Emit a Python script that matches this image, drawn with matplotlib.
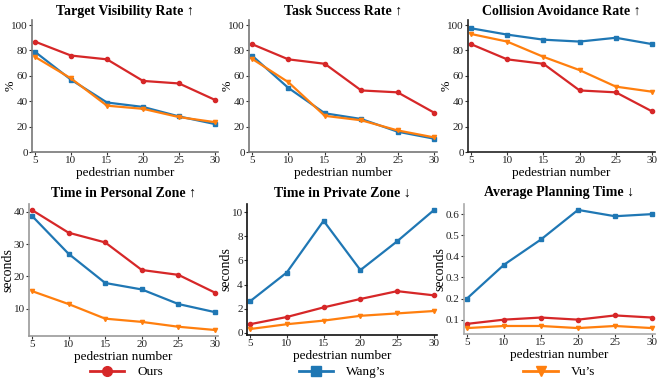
import matplotlib
matplotlib.use("Agg")
import matplotlib.pyplot as plt
from matplotlib.lines import Line2D

plt.rcParams['font.family'] = ['Liberation Serif', 'DejaVu Serif']

peds = [5, 10, 15, 20, 25, 30]

vis_ours = [87, 76, 73, 56, 54, 41]
vis_wang = [79, 57, 39, 35.5, 28, 22]
vis_vu = [75, 58, 36.5, 34, 27.5, 23.5]

succ_ours = [85, 73, 69.5, 48.5, 47, 31]
succ_wang = [76, 50.5, 30.5, 26, 16, 10.5]
succ_vu = [73.5, 55, 28.5, 25, 17, 11.5]

coll_ours = [85, 73, 69.5, 48.5, 47, 32]
coll_wang = [97.5, 92.5, 88.5, 87, 90, 85]
coll_vu = [93, 87, 75, 64.5, 51.5, 47.5]

pers_ours = [40.5, 33.5, 30.5, 22, 20.5, 15]
pers_wang = [38.7, 27, 18, 16, 11.5, 9]
pers_vu = [15.5, 11.5, 7, 6, 4.5, 3.5]

priv_ours = [0.7, 1.3, 2.1, 2.8, 3.45, 3.1]
priv_wang = [2.6, 5.0, 9.3, 5.2, 7.6, 10.2]
priv_vu = [0.3, 0.7, 1.0, 1.4, 1.6, 1.8]

plan_ours = [0.08, 0.10, 0.11, 0.10, 0.12, 0.11]
plan_wang = [0.20, 0.36, 0.48, 0.62, 0.59, 0.60]
plan_vu = [0.06, 0.07, 0.07, 0.06, 0.07, 0.06]

methods = ["Ours", "Wang\u2019s", "Vu\u2019s"]
colors = ['#d62728', '#1f77b4', '#ff7f0e']
markers = ['o', 's', 'v']

pct_ticks = [0, 20, 40, 60, 80, 100]
panels = [
    ("Target Visibility Rate", "\u2191", "%", [vis_ours, vis_wang, vis_vu], pct_ticks),
    ("Task Success Rate", "\u2191", "%", [succ_ours, succ_wang, succ_vu], pct_ticks),
    ("Collision Avoidance Rate", "\u2191", "%", [coll_ours, coll_wang, coll_vu], pct_ticks),
    ("Time in Personal Zone", "\u2191", "seconds", [pers_ours, pers_wang, pers_vu], [10, 20, 30, 40]),
    ("Time in Private Zone", "\u2193", "seconds", [priv_ours, priv_wang, priv_vu], [0, 2, 4, 6, 8, 10]),
    ("Average Planning Time", "\u2193", "seconds", [plan_ours, plan_wang, plan_vu],
     [0.1, 0.2, 0.3, 0.4, 0.5, 0.6]),
]

W, H = 658, 383
# pixel boxes: left, right, top, bottom
boxes = [
    (32, 218, 20, 152), (249, 437, 20, 152), (468, 655, 20, 152),
    (29, 218, 204, 336), (247, 437, 204, 335), (464, 655, 204, 334),
]
spine_colors = ['#777777', '#777777', '#222222', '#999999', '#111111', '#aaaaaa']

fig = plt.figure(figsize=(W / 100, H / 100), dpi=100)

for i, ((title, arrow, ylab, series, yticks), (l, r, t, b)) in enumerate(zip(panels, boxes)):
    ax = fig.add_axes([l / W, 1 - b / H, (r - l) / W, (b - t) / H])
    for vals, c, m in zip(series, colors, markers):
        ax.plot(peds, vals, color=c, marker=m, markersize=3, linewidth=1.6)
    ax.set_xlim(4.6, 30.4)
    if ylab == "%":
        ax.set_ylim(0, 104)
    ax.set_yticks(yticks)
    ax.set_xticks(peds)
    for side in ['top', 'right']:
        ax.spines[side].set_visible(False)
    for side in ['left', 'bottom']:
        ax.spines[side].set_color(spine_colors[i])
        ax.spines[side].set_linewidth(1.2)
    ax.tick_params(labelsize=8, length=2, width=0.8, pad=1, colors='#333333')
    ax.tick_params(labelcolor='#222222')
    ax.set_title(title + " " + arrow, fontsize=10, fontweight='bold',
                 pad=3.5 if i < 3 else 5.5)
    ax.set_xlabel("pedestrian number", fontsize=9.5, labelpad=1)
    if ylab == "%":
        ax.set_ylabel(ylab, fontsize=9, labelpad=-4)
    else:
        ax.set_ylabel(ylab, fontsize=10, labelpad=-0.5)

legend_x = [0.192, 0.52, 0.85]
for name, c, m, x in zip(methods, colors, markers, legend_x):
    h = Line2D([], [], color=c, marker=m, markersize=7, linewidth=2)
    fig.legend(handles=[h], labels=[name], loc='center', bbox_to_anchor=(x, 0.028),
               frameon=False, fontsize=9.5, handlelength=2.6, handletextpad=1.0)

fig.savefig("out.png", dpi=100)
